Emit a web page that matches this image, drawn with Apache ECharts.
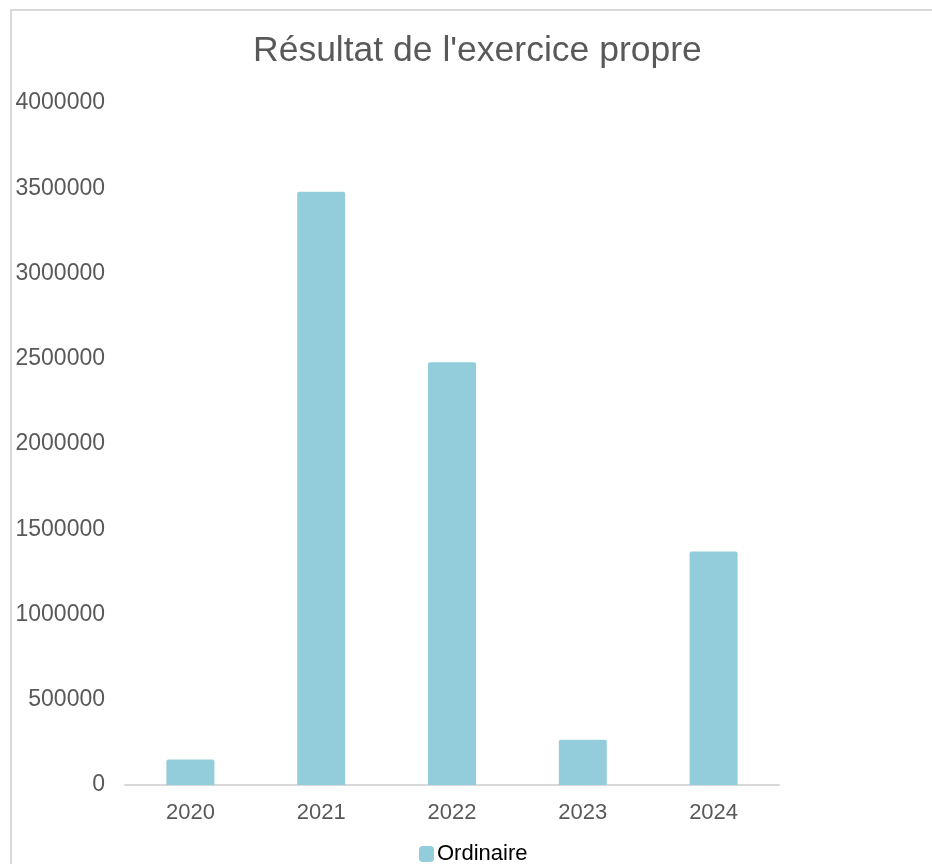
<!DOCTYPE html>
<html>
<head>
<meta charset="utf-8">
<script src="https://cdn.jsdelivr.net/npm/echarts@6/dist/echarts.min.js"></script>
<style>
html,body{margin:0;padding:0;background:#fff;}
#chart{width:932px;height:864px;}
</style>
</head>
<body>
<div id="chart"></div>
<script>
const titleText = "Résultat de l'exercice propre";
const categories = ['2020', '2021', '2022', '2023', '2024'];
const seriesName = 'Ordinaire';
const values = [150000, 3480000, 2480000, 265000, 1370000];
const yMin = 0, yMax = 4000000, yInterval = 500000;

const chart = echarts.init(document.getElementById('chart'), null, {renderer: 'canvas'});
const font = 'Liberation Sans, Arial, Helvetica, sans-serif';
chart.setOption({
  animation: false,
  backgroundColor: '#fff',
  graphic: [{
    type: 'rect',
    shape: {x: 11, y: 10, width: 1000, height: 1000},
    style: {fill: 'none', stroke: '#d9d9d9', lineWidth: 2},
    silent: true
  }],
  title: {
    text: titleText,
    left: 253,
    top: 33,
    padding: 0,
    textStyle: {fontFamily: font, fontSize: 35.5, fontWeight: 'normal', color: '#595959'}
  },
  legend: {
    data: [seriesName],
    left: 419,
    top: 843,
    padding: 0,
    itemWidth: 15,
    itemHeight: 16,
    icon: 'roundRect',
    textStyle: {fontFamily: font, fontSize: 22, color: '#000', padding: [0, 0, 0, -2]}
  },
  grid: {left: 125, right: 153, top: 103, bottom: 79, containLabel: false},
  xAxis: {
    type: 'category',
    data: categories,
    axisLine: {show: true, lineStyle: {color: '#d9d9d9', width: 2}},
    axisTick: {show: false},
    axisLabel: {fontFamily: font, fontSize: 22, color: '#595959', margin: 17}
  },
  yAxis: {
    type: 'value',
    min: yMin,
    max: yMax,
    interval: yInterval,
    axisLine: {show: false},
    axisTick: {show: false},
    splitLine: {show: false},
    axisLabel: {fontFamily: font, fontSize: 23, color: '#595959', margin: 20,
      formatter: function (v) { return String(v); }}
  },
  series: [{
    name: seriesName,
    type: 'bar',
    data: values,
    barWidth: 48,
    itemStyle: {color: '#93CDDB', borderRadius: [2, 2, 0, 0]}
  }]
});
</script>
</body>
</html>
